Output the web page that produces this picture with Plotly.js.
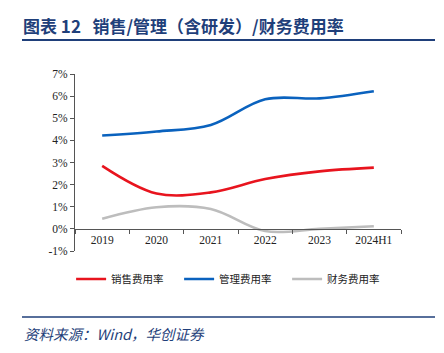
<!DOCTYPE html>
<html><head><meta charset="utf-8">
<script src="https://cdn.plot.ly/plotly-3.0.1.min.js"></script>
<style>html,body{margin:0;padding:0;background:#fff;}#chart{width:444px;height:353px;}</style>
</head><body><div id="chart"></div>
<script>
const categories = ['2019','2020','2021','2022','2023','2024H1'];
const salesRate = [2.85, 1.6, 1.65, 2.25, 2.6, 2.77];
const adminRate = [4.22, 4.4, 4.7, 5.86, 5.9, 6.22];
const financeRate = [0.46, 0.98, 0.9, -0.1, 0.0, 0.12];
const seriesNames = ['销售费用率','管理费用率','财务费用率'];
const yTicks = [-1,0,1,2,3,4,5,6,7];

const W=444,H=353,L=75,R=401,T=74,B=251;
const px=x=>(x-L)/(R-L), py=y=>(B-y)/(B-T);
const navy='#1F3F7A';

const mk=(y,name,color)=>({x:categories,y:y,name:name,type:'scatter',mode:'lines',
  line:{color:color,width:2.6,shape:'spline',smoothing:1}});
const data=[mk(salesRate,seriesNames[0],'#E8141E'),mk(adminRate,seriesNames[1],'#0A62BE'),mk(financeRate,seriesNames[2],'#BDBDBD')];

const layout={width:W,height:H,margin:{l:L,r:W-R,t:T,b:H-B,autoexpand:false},
  paper_bgcolor:'#fff',plot_bgcolor:'#fff',showlegend:true,
  font:{family:'"Liberation Serif", serif',size:11,color:'#222'},
  xaxis:{type:'category',range:[-0.5,5.5],anchor:'free',position:py(229),showline:true,linecolor:'#555',linewidth:1,
    ticks:'outside',ticklen:4,tickcolor:'#555',tickson:'boundaries',showgrid:false,zeroline:false,
    tickfont:{family:'"Liberation Serif", serif',size:11.5,color:'#222'},fixedrange:true},
  yaxis:{range:[-1,7],tickvals:yTicks,ticktext:yTicks.map(v=>v+'%'),showline:true,linecolor:'#555',linewidth:1,
    ticks:'outside',ticklen:4,tickcolor:'#555',showgrid:false,zeroline:false,
    tickfont:{family:'"Liberation Serif", serif',size:11.5,color:'#222'},fixedrange:true},
  legend:{orientation:'h',x:0.485,xanchor:'center',y:py(279),yanchor:'middle',
    font:{family:'"Noto Sans CJK SC", sans-serif',size:10.5,color:'#222'},itemwidth:30,
    entrywidth:63,entrywidthmode:'pixels',tracegroupgap:0},
  shapes:[
    {type:'line',xref:'paper',yref:'paper',x0:px(22),x1:px(435),y0:py(40),y1:py(40),line:{color:navy,width:2}},
    {type:'line',xref:'paper',yref:'paper',x0:px(22),x1:px(435),y0:py(317),y1:py(317),line:{color:navy,width:1.5}}
  ],
  annotations:[
    {xref:'paper',yref:'paper',x:px(21),y:py(25),xanchor:'left',yanchor:'middle',showarrow:false,
     text:'<b>图表 12   销售/管理（含研发）/财务费用率</b>',font:{family:'"Noto Sans CJK SC", sans-serif',size:17,color:navy}},
    {xref:'paper',yref:'paper',x:px(22),y:py(333),xanchor:'left',yanchor:'middle',showarrow:false,
     text:'<i>资料来源：Wind，华创证券</i>',font:{family:'"Noto Sans CJK SC", serif',size:14.5,color:navy}}
  ]};
Plotly.newPlot('chart',data,layout,{displayModeBar:false,staticPlot:true});
</script></body></html>
